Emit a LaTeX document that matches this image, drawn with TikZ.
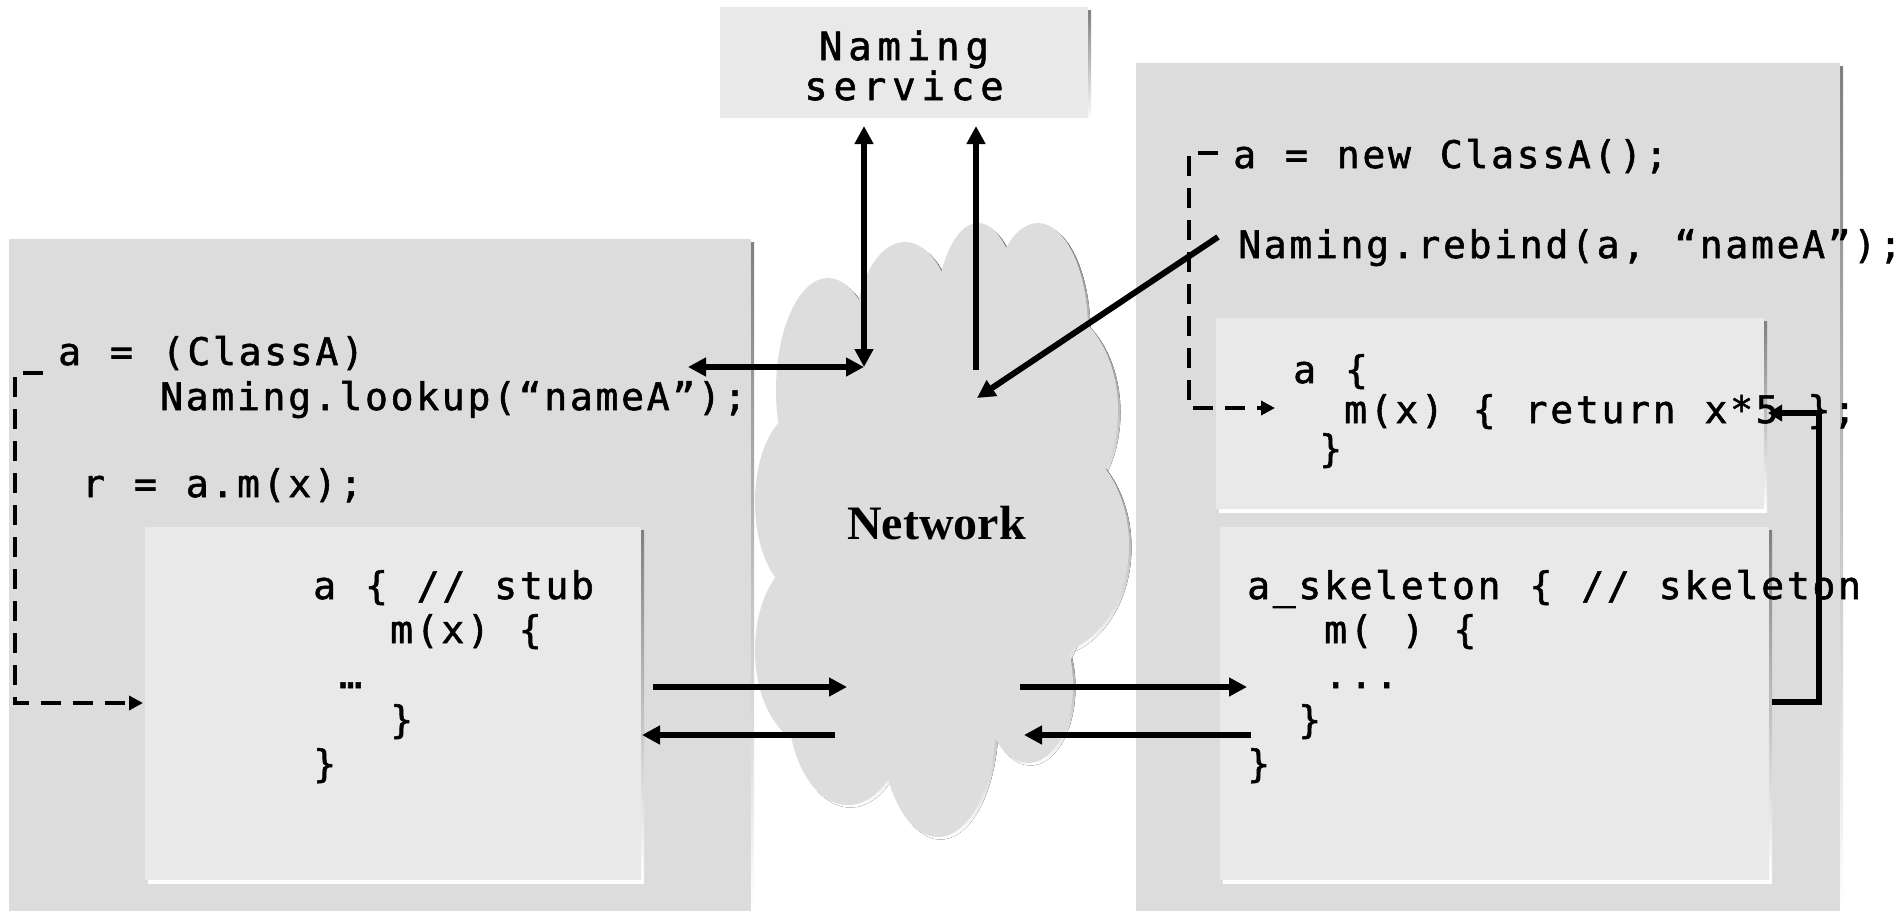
\documentclass[tikz,border=0pt]{standalone}
\usepackage{fontspec}
\usetikzlibrary{arrows.meta}
\newfontfamily\codefont[LetterSpace=7.2,WordSpace=1.13,FakeBold=1.5]{DejaVu Sans Mono}
\newfontfamily\namefont[LetterSpace=15,FakeBold=1.5]{DejaVu Sans Mono}
\newfontfamily\netfont{Liberation Serif}
\definecolor{panel}{RGB}{220,220,220}
\definecolor{inner}{RGB}{233,233,233}
\definecolor{shade}{RGB}{150,150,150}
\definecolor{cloudc}{RGB}{221,221,221}
\begin{document}
\begin{tikzpicture}[x=1pt,y=1pt,
  code/.style={font=\codefont\fontsize{38}{44}\selectfont, anchor=base west, inner sep=0pt},
  namef/.style={font=\namefont\fontsize{39}{40}\selectfont, anchor=base, inner sep=0pt},
  arr/.style={line width=6pt, -{Triangle[length=18pt,width=18pt]}},
  darr/.style={line width=6pt, {Triangle[length=18pt,width=18pt]}-{Triangle[length=18pt,width=18pt]}},
  elbow/.style={line width=6pt, line join=miter, -{Triangle[length=14pt,width=16pt]}},
  dasharr/.style={line width=3.5pt, dash pattern=on 20pt off 12pt, -{Triangle[length=14pt,width=14pt]}}
]
\useasboundingbox (0,0) rectangle (1899,-911);
% panels
\fill[shade] (12,-242) rectangle (754,-911);
\fill[panel] (9,-239) rectangle (751,-911);
\fill[shade] (1139,-66) rectangle (1843,-911);
\fill[panel] (1136,-63) rectangle (1840,-911);
% naming service box
\fill[shade] (723,-10) rectangle (1091,-121);
\fill[inner] (720,-7) rectangle (1088,-118);
% stub box
\fill[shade] (148,-530) rectangle (644,-883);
\fill[inner] (145,-527) rectangle (641,-880);
% object box
\fill[shade] (1219,-321) rectangle (1767,-512);
\fill[inner] (1216,-318) rectangle (1764,-509);
% skeleton box
\fill[shade] (1223,-530) rectangle (1772,-883);
\fill[inner] (1220,-527) rectangle (1769,-880);
% cloud
\foreach \cx/\cy/\rx/\ry in {828/390/52/112, 905/335/50/93, 978/320/42/97, 1038/330/50/107,
  1045/410/73/105, 1045/545/84/110, 1028/685/45/78, 938/720/58/117, 848/705/60/100,
  805/650/50/90, 800/502/45/90, 940/520/160/230}
  \fill[shade] ({\cx+2.5},{-\cy-2.5}) ellipse [x radius=\rx, y radius=\ry];
\foreach \cx/\cy/\rx/\ry in {828/390/52/112, 905/335/50/93, 978/320/42/97, 1038/330/50/107,
  1045/410/73/105, 1045/545/84/110, 1028/685/45/78, 938/720/58/117, 848/705/60/100,
  805/650/50/90, 800/502/45/90, 940/520/160/230}
  \fill[cloudc] (\cx,-\cy) ellipse [x radius=\rx, y radius=\ry];
\node[font=\netfont\bfseries\fontsize{48}{50}\selectfont, anchor=base, inner sep=0pt] (net) at (936.5,-539) {Network};
% naming service text
\node[namef] (ns1) at (904,-60) {Naming};
\node[namef] (ns2) at (904,-100) {service};
% left panel text
\node[code] (l1) at (58,-365) {a = (ClassA)};
\node[code] (l2) at (160,-410) {Naming.lookup(“nameA”);};
\node[code] (l3) at (82,-497) {r = a.m(x);};
\node[code] (s1) at (313,-599) {a \{ // stub};
\node[code] (s2) at (390,-643) {m(x) \{};
\node[code] (s3) at (339,-688) {…};
\node[code] (s4) at (390,-733) {\}};
\node[code] (s5) at (313,-777) {\}};
% right panel text
\node[code] (r1) at (1233,-168) {a = new ClassA();};
\node[code] (r2) at (1238,-258) {Naming.rebind(a, “nameA”);\kern-7pt};
\node[code] (o1) at (1293,-383) {a \{};
\node[code] (o2) at (1344,-423) {m(x) \{ return x*5 \};};
\node[code] (o3) at (1319,-462) {\}};
\node[code] (k1) at (1247,-599) {a\_skeleton \{ // skeleton};
\node[code] (k2) at (1324,-643) {m( ) \{};
\node[code] (k3) at (1324,-688) {...};
\node[code] (k4) at (1298,-733) {\}};
\node[code] (k5) at (1247,-777) {\}};
% coordinates
\coordinate (nsA) at (864,-126);
\coordinate (hub) at (864,-367);
\coordinate (lk) at (688,-367);
\coordinate (nsB) at (976,-126);
\coordinate (netB) at (976,-370);
\coordinate (rb) at (1218,-237);
\coordinate (netR) at (977,-398);
\coordinate (stubOut) at (653,-687);
\coordinate (netIn1) at (847,-687);
\coordinate (netOut1) at (835,-735);
\coordinate (stubIn) at (642,-735);
\coordinate (netOut2) at (1020,-687);
\coordinate (skelIn) at (1247,-687);
\coordinate (skelOut) at (1251,-735);
\coordinate (netIn2) at (1024,-735);
\coordinate (skelR) at (1772,-702);
\coordinate (eb) at (1819,-702);
\coordinate (et) at (1819,-413);
\coordinate (objR) at (1768,-413);
\coordinate (dl0) at (43,-373);
\coordinate (dl1) at (15,-373);
\coordinate (dl2) at (15,-703);
\coordinate (stubL) at (143,-703);
\coordinate (dr0) at (1218,-153);
\coordinate (dr1) at (1189,-153);
\coordinate (dr2) at (1189,-408);
\coordinate (objL) at (1275,-408);
% connectors
\draw[darr] (nsA) -- (hub);
\draw[darr] (lk) -- (hub);
\draw[arr] (netB) -- (nsB);
\draw[arr] (rb) -- (netR);
\draw[arr] (stubOut) -- (netIn1);
\draw[arr] (netOut1) -- (stubIn);
\draw[arr] (netOut2) -- (skelIn);
\draw[arr] (skelOut) -- (netIn2);
\draw[elbow] (skelR) -- (eb) -- (et) -- (objR);
\draw[dasharr] (dl0) -- (dl1) -- (dl2) -- (stubL);
\draw[dasharr] (dr0) -- (dr1) -- (dr2) -- (objL);
\end{tikzpicture}
\end{document}
